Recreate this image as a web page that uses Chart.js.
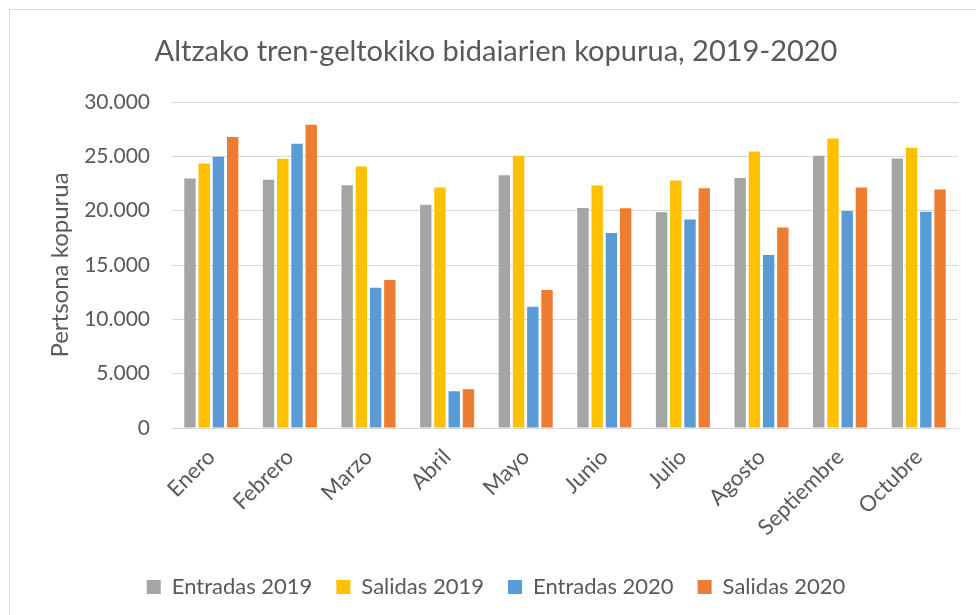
<!DOCTYPE html>
<html>
<head>
<meta charset="utf-8">
<script src="https://cdn.jsdelivr.net/npm/chart.js@4/dist/chart.umd.min.js"></script>
<style>
  html, body { margin: 0; padding: 0; background: #ffffff; }
  #wrap { width: 976px; height: 615px; position: relative; }
</style>
</head>
<body>
<div id="wrap"><canvas id="c" width="976" height="615"></canvas></div>
<script>
const chartTitle = 'Altzako tren-geltokiko bidaiarien kopurua, 2019-2020';
const yAxisTitle = 'Pertsona kopurua';
const months = ['Enero', 'Febrero', 'Marzo', 'Abril', 'Mayo', 'Junio', 'Julio', 'Agosto', 'Septiembre', 'Octubre'];
const entradas2019 = [22950, 22850, 22350, 20550, 23250, 20250, 19850, 23000, 25050, 24800];
const salidas2019  = [24350, 24780, 24070, 22130, 25050, 22320, 22780, 25450, 26650, 25800];
const entradas2020 = [24970, 26160, 12900, 3380, 11160, 17950, 19180, 15920, 19980, 19900];
const salidas2020  = [26780, 27910, 13620, 3570, 12700, 20230, 22070, 18440, 22130, 21950];
const yTickLabels = ['0', '5.000', '10.000', '15.000', '20.000', '25.000', '30.000'];
const seriesNames = ['Entradas 2019', 'Salidas 2019', 'Entradas 2020', 'Salidas 2020'];
const seriesColors = ['#A5A5A5', '#FFC000', '#5B9BD5', '#ED7D31'];

const FONT = 'Lato, "Open Sans", sans-serif';
const TEXT = '#595959';

const frame = {
  id: 'frame',
  beforeDraw(chart) {
    const ctx = chart.ctx;
    ctx.save();
    ctx.fillStyle = '#ffffff';
    ctx.fillRect(0, 0, chart.width, chart.height);
    ctx.strokeStyle = '#D9D9D9';
    ctx.lineWidth = 1;
    ctx.strokeRect(9.5, 9.5, chart.width + 20, chart.height + 20);
    ctx.restore();
  }
};

const seriesData = [entradas2019, salidas2019, entradas2020, salidas2020];

new Chart(document.getElementById('c'), {
  type: 'bar',
  data: {
    labels: months,
    datasets: seriesNames.map((name, i) => ({
      label: name,
      data: seriesData[i],
      backgroundColor: seriesColors[i],
      borderWidth: 0,
      categoryPercentage: 0.724,
      barPercentage: 0.8
    }))
  },
  plugins: [frame],
  options: {
    responsive: false,
    animation: false,
    devicePixelRatio: 1,
    layout: { padding: { left: 34, right: 18, top: 0, bottom: 7 } },
    plugins: {
      title: {
        display: true,
        text: chartTitle,
        color: TEXT,
        font: { family: FONT, size: 29, weight: 'normal', lineHeight: 1.2 },
        padding: { top: 34, bottom: 33.2 }
      },
      legend: {
        position: 'bottom',
        labels: {
          color: TEXT,
          font: { family: FONT, size: 22 },
          boxWidth: 14,
          boxHeight: 14,
          padding: 24
        }
      },
      tooltip: { enabled: false }
    },
    scales: {
      x: {
        grid: { display: false, drawTicks: false },
        border: { display: true, color: '#D9D9D9', width: 1 },
        ticks: {
          color: TEXT,
          font: { family: FONT, size: 22 },
          maxRotation: 45,
          minRotation: 45,
          padding: 16,
          autoSkip: false
        },
        afterFit(scale) { scale.height = 124; }
      },
      y: {
        min: 0,
        max: 30000,
        grid: { color: '#D9D9D9', lineWidth: 1, drawTicks: false },
        border: { display: false },
        ticks: {
          stepSize: 5000,
          color: TEXT,
          font: { family: FONT, size: 21 },
          padding: 22,
          callback: (v, i) => yTickLabels[i]
        },
        title: {
          display: true,
          text: yAxisTitle,
          color: TEXT,
          font: { family: FONT, size: 24 },
          padding: { top: 12, bottom: 0 }
        },
        afterFit(scale) { scale.width = 138; }
      }
    }
  }
});
</script>
</body>
</html>
